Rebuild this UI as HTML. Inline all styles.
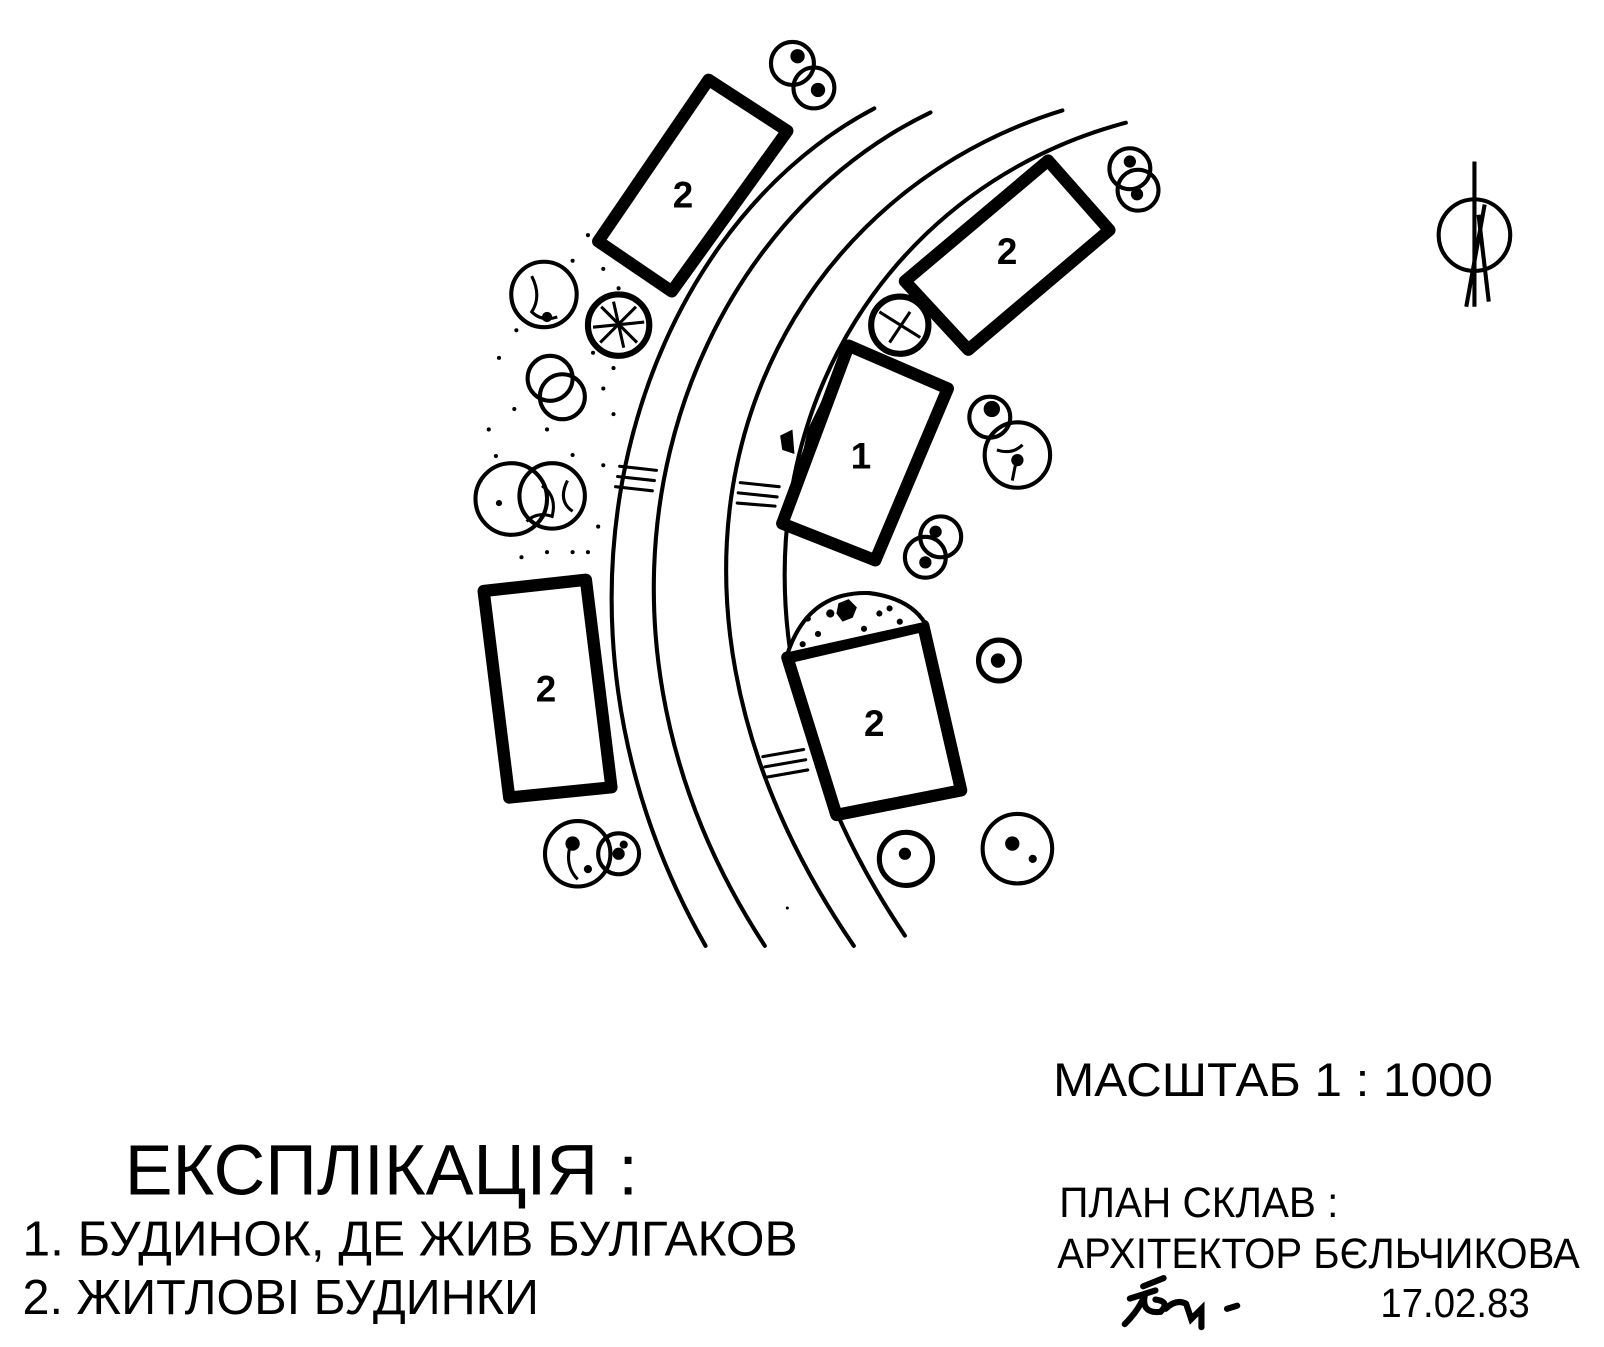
<!DOCTYPE html>
<html><head><meta charset="utf-8"><style>
html,body{margin:0;padding:0;background:#fff}
svg{display:block}
text{font-family:"Liberation Sans","DejaVu Sans",sans-serif;fill:#000}
</style></head><body>
<svg width="1604" height="1347" viewBox="0 0 1604 1347" xmlns="http://www.w3.org/2000/svg">
<rect width="1604" height="1347" fill="#fff"/>
<g transform="scale(1.0225)">
<g fill="none" stroke="#000" stroke-linecap="round">
<path d="M855,106 C620,230 505,600 690,925" stroke-width="4"/>
<path d="M910,110 C660,230 535,600 748,925" stroke-width="4"/>
<path d="M1039,108 C740,200 585,560 835,925" stroke-width="4"/>
<path d="M1101,120 C800,200 645,560 885,915" stroke-width="4"/>
<path d="M606,456 L642,460 M604,466 L640,470 M602,476 L638,480" stroke-width="3"/>
<path d="M724,472 L762,476 M722,482 L760,486 M721,492 L758,495" stroke-width="3"/>
<path d="M746,740 L786,733 M748,750 L788,743 M750,760 L790,753" stroke-width="3"/>
</g>
<g fill="#fff" stroke="#000" stroke-width="12" stroke-linejoin="round">
<polygon points="693,78 770,128 657,285 585,236"/>
<polygon points="1025,157 1085,225 947,342 885,275"/>
<polygon points="830,338 927,380 856,548 765,512"/>
<polygon points="473,578 573,567 598,770 498,780"/>
<polygon points="770,643 903,612 940,773 818,797"/>
</g>
<path d="M790,420 L830,338 L765,512 L775,490 Z" fill="#000"/>
<path d="M775,420 l-12,6 l2,14 l12,4 Z" fill="#000"/>
<path d="M770,640 Q790,578 850,580 Q890,585 905,610 Z" fill="#fff" stroke="#000" stroke-width="4"/>
<g fill="#000">
<circle cx="790" cy="605" r="3"/><circle cx="800" cy="620" r="3"/><circle cx="785" cy="630" r="3"/><circle cx="860" cy="600" r="3"/><circle cx="880" cy="608" r="3"/><circle cx="845" cy="615" r="3"/><circle cx="812" cy="600" r="4"/><circle cx="870" cy="595" r="3"/>
<path d="M820,590 l10,-4 l8,8 l-4,10 l-10,4 l-6,-8 Z"/>
</g>
<g font-weight="bold" font-size="36" text-anchor="middle">
<text x="668" y="203">2</text>
<text x="985" y="258">2</text>
<text x="842" y="458">1</text>
<text x="534" y="686">2</text>
<text x="855" y="720">2</text>
</g>
<g fill="none" stroke="#000" stroke-width="4">
<circle cx="775" cy="62" r="21"/><circle cx="796" cy="86" r="20"/>
<circle cx="1105" cy="165" r="20"/><circle cx="1113" cy="186" r="20"/>
<circle cx="532" cy="288" r="32"/>
<circle cx="605" cy="318" r="30" stroke-width="6"/>
<circle cx="538" cy="370" r="22"/><circle cx="550" cy="388" r="22"/>
<circle cx="500" cy="488" r="35"/><circle cx="540" cy="485" r="32"/>
<circle cx="968" cy="408" r="20"/><circle cx="995" cy="445" r="32"/>
<circle cx="880" cy="318" r="28" stroke-width="6"/>
<circle cx="920" cy="525" r="20"/><circle cx="905" cy="545" r="20"/>
<circle cx="977" cy="646" r="20" stroke-width="5"/>
<circle cx="565" cy="835" r="32"/><circle cx="605" cy="835" r="20"/>
<circle cx="886" cy="840" r="26" stroke-width="5"/>
<circle cx="995" cy="830" r="34"/>
<path d="M520,270 q10,20 0,35 q10,10 25,5 M600,295 l10,45 M580,320 l50,-5 M588,300 l35,35 M622,300 l-35,35 M860,305 l40,25 M870,335 l20,-30 M530,475 q15,10 10,30 q-15,-5 -25,5 M555,470 q-10,20 5,30 M975,440 q15,5 25,-5 M995,445 l-5,25 M560,820 q-10,25 5,40" stroke-width="3"/>
</g>
<g fill="#000">
<circle cx="780" cy="55" r="7"/><circle cx="800" cy="88" r="7"/><circle cx="1105" cy="158" r="6"/><circle cx="1112" cy="190" r="6"/>
<circle cx="970" cy="400" r="8"/><circle cx="995" cy="450" r="6"/><circle cx="915" cy="520" r="6"/><circle cx="905" cy="550" r="6"/>
<circle cx="976" cy="646" r="7"/><circle cx="885" cy="835" r="6"/><circle cx="990" cy="825" r="7"/><circle cx="560" cy="825" r="7"/><circle cx="605" cy="835" r="6"/><circle cx="610" cy="826" r="4"/><circle cx="575" cy="850" r="4"/><circle cx="1010" cy="840" r="4"/>
<circle cx="535" cy="310" r="5"/><circle cx="488" cy="492" r="3"/>
</g>
<g fill="#000">
<circle cx="575" cy="230" r="2"/><circle cx="560" cy="255" r="2"/><circle cx="590" cy="263" r="2"/><circle cx="605" cy="282" r="2"/><circle cx="505" cy="323" r="2"/><circle cx="488" cy="350" r="2"/><circle cx="580" cy="345" r="2"/><circle cx="600" cy="360" r="2"/><circle cx="590" cy="380" r="2"/><circle cx="503" cy="400" r="2"/><circle cx="478" cy="420" r="2"/><circle cx="535" cy="420" r="2"/><circle cx="600" cy="405" r="2"/><circle cx="485" cy="446" r="2"/><circle cx="560" cy="445" r="2"/><circle cx="590" cy="455" r="2"/><circle cx="510" cy="545" r="2"/><circle cx="535" cy="540" r="2"/><circle cx="560" cy="540" r="2"/><circle cx="585" cy="515" r="2"/><circle cx="575" cy="540" r="2"/><circle cx="470" cy="470" r="2"/><circle cx="770" cy="888" r="1.5"/>
</g>
<g fill="none" stroke="#000" stroke-width="4">
<circle cx="1442" cy="230" r="35"/>
<line x1="1442" y1="158" x2="1442" y2="300"/>
<line x1="1452" y1="200" x2="1434" y2="300"/>
<line x1="1446" y1="210" x2="1456" y2="295"/>
</g>
<text x="1030" y="1072" font-size="46" textLength="430" lengthAdjust="spacingAndGlyphs">МАСШТАБ 1 : 1000</text>
<text x="122" y="1168" font-size="70" textLength="502" lengthAdjust="spacingAndGlyphs">ЕКСПЛІКАЦІЯ :</text>
<text x="22" y="1228" font-size="48" textLength="758" lengthAdjust="spacingAndGlyphs">1. БУДИНОК, ДЕ ЖИВ БУЛГАКОВ</text>
<text x="22" y="1285" font-size="48" textLength="505" lengthAdjust="spacingAndGlyphs">2. ЖИТЛОВІ БУДИНКИ</text>
<text x="1036" y="1190" font-size="42" textLength="273" lengthAdjust="spacingAndGlyphs">ПЛАН СКЛАВ :</text>
<text x="1034" y="1240" font-size="42" textLength="511" lengthAdjust="spacingAndGlyphs">АРХІТЕКТОР БЄЛЬЧИКОВА</text>
<text x="1350" y="1288" font-size="40" textLength="146" lengthAdjust="spacingAndGlyphs">17.02.83</text>
<g fill="none" stroke="#000" stroke-width="6" stroke-linecap="round">
<path d="M1105,1270 l25,-8 M1100,1295 q15,-15 20,-30 q-5,20 15,18 q10,-10 -5,-12 M1140,1280 q10,-10 20,-5 M1160,1275 l5,15 l10,-10 l0,18 M1118,1258 l20,-8 M1200,1280 l10,-3"/>
</g>
</g>
</svg>
</body></html>
